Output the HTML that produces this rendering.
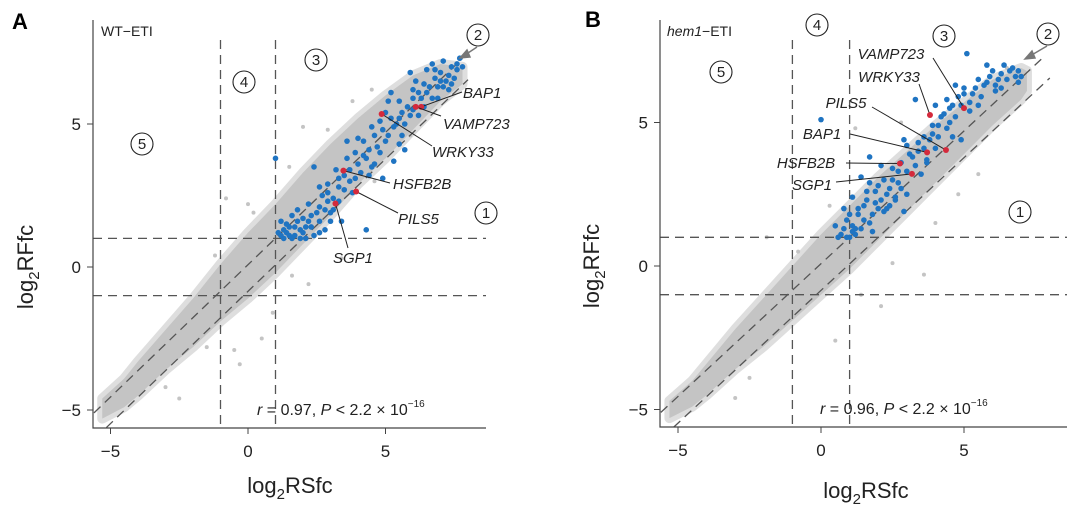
<!DOCTYPE html>
<html><head><meta charset="utf-8"><style>
body{margin:0;background:#fff}
svg{display:block;font-family:"Liberation Sans",Arial,sans-serif}
</style></head><body>
<svg id="chart" width="1080" height="513" viewBox="0 0 1080 513"></svg>
<script>
// ---- Panel A data ----
const bandXA=[-5.3,-4.5,-4,-3,-2,-1,0,1,2,3,4,5,6,7,7.8];
const bandUpA=[-4.6,-3.9,-3.3,-2.2,-1.1,0.1,1.2,2.2,3.3,4.3,5.2,6.0,6.7,7.1,7.0];
const bandLoA=[-5.3,-4.9,-4.5,-3.6,-2.8,-1.9,-1.1,-0.2,0.8,1.8,2.9,3.8,4.8,5.8,6.4];
const grayA=[[-1.5,-2.8],[0.2,1.9],[-0.8,2.4],[0.5,-2.5],[0.9,-1.6],[1.5,3.5],[2.9,4.8],[-4.2,-4.3],[-2.5,-4.6],[3.4,0.3],[4.6,3.0],[2.2,-0.6],[-0.5,-2.9],[2.0,4.9],[3.8,5.8],[4.5,6.2],[-3.0,-4.2],[0.0,2.2],[-1.2,0.4],[1.6,-0.3],[5.9,4.6],[-0.3,-3.4]];
const blueA=[[1.1,1.2],[1.3,1.0],[1.5,1.4],[1.7,1.1],[1.9,1.3],[2.1,1.0],[1.2,1.6],[1.6,1.8],[2.0,1.7],[2.3,1.4],[2.5,1.9],[2.2,2.2],[2.8,2.0],[3.0,1.6],[2.7,2.5],[3.1,2.4],[3.3,2.8],[2.9,2.9],[3.5,3.2],[3.2,3.4],[3.7,3.0],[3.8,2.6],[4.3,1.3],[4.0,3.6],[3.9,4.0],[4.3,3.8],[4.6,3.6],[4.2,4.4],[4.6,4.6],[5.0,4.4],[5.3,4.9],[5.5,5.2],[5.0,5.4],[5.6,4.6],[5.8,5.6],[6.0,5.9],[6.2,6.1],[6.4,5.6],[6.6,6.3],[6.8,6.6],[7.0,6.8],[7.2,6.5],[7.4,7.0],[7.6,6.9],[7.3,6.2],[6.9,5.9],[6.1,6.5],[5.9,6.8],[5.2,6.1],[3.6,4.4],[2.4,3.5],[1.0,3.8],[4.9,3.1],[5.3,3.7],[5.7,4.1],[6.5,6.9],[7.7,7.3],[4.4,3.2],[3.0,1.9],[1.8,2.0],[1.4,1.2],[2.6,1.2],[6.7,7.1],[7.1,7.2],[5.5,4.3],[4.8,4.0],
[1.2,1.1],[1.4,1.5],[1.6,1.0],[1.8,1.6],[2.0,1.2],[2.2,1.6],[2.4,1.1],[2.6,1.6],[1.3,1.3],[1.5,1.1],[1.9,1.0],[2.1,1.4],[2.3,1.8],[2.6,2.1],[2.9,2.3],[3.1,2.0],[3.3,2.3],[3.5,2.7],[3.7,3.4],[3.9,3.1],[4.1,3.3],[4.2,3.9],[4.4,4.1],[4.5,3.5],[4.7,4.2],[4.9,4.8],[5.1,4.6],[5.2,5.2],[5.4,5.0],[5.6,5.4],[5.7,5.0],[5.9,5.3],[6.0,5.5],[6.2,5.3],[6.3,5.9],[6.5,6.1],[6.7,5.9],[6.9,6.3],[7.1,6.3],[7.3,6.7],[7.5,6.6],[7.6,7.1],[7.8,7.0],[7.4,6.4],[7.0,6.5],[6.8,6.9],[6.4,6.4],[6.0,6.2],[5.5,5.8],[5.1,5.8],[4.8,5.1],[4.5,4.9],[4.0,4.5],[3.6,3.8],[3.3,3.1],[2.9,2.6],[2.6,2.8],[1.7,1.4],[2.8,1.3],[3.4,1.6]];
const redA=[[6.3,5.6],[6.1,5.6],[4.86,5.35],[3.47,3.37],[3.93,2.64],[3.18,2.22]];
const namesA=["BAP1","VAMP723","WRKY33","HSFB2B","PILS5","SGP1"];
const labA=[[463,98,462,92],[443,129,441,116],[432,157,432,146],[393,189,390,183],[398,224,398,213],[333,263,348,248]];
// ---- Panel B data ----
const bandXB=[-5.3,-4.5,-4,-3,-2,-1,0,1,2,3,4,5,6,7,7.2];
const bandUpB=[-4.7,-4.0,-3.4,-2.2,-1.1,0.0,1.1,2.1,3.1,4.0,4.9,5.7,6.5,6.9,6.8];
const bandLoB=[-5.3,-4.9,-4.5,-3.6,-2.8,-1.9,-1.0,-0.1,0.9,1.9,2.9,3.9,4.9,5.8,6.1];
const grayB=[[-4.0,-4.3],[-3.0,-4.6],[-1.8,-1.2],[0.5,-2.6],[1.4,-1.0],[2.1,-1.4],[3.6,-0.3],[1.2,4.8],[2.8,5.0],[4.8,2.5],[5.5,3.2],[-1.9,1.0],[-0.8,0.5],[0.3,2.1],[2.5,0.1],[6.5,6.9],[-2.5,-3.9],[4.0,1.5]];
const blueB=[[0.5,1.4],[0.7,1.1],[0.9,1.6],[1.0,1.0],[1.2,1.3],[0.8,2.0],[1.3,1.8],[1.5,2.1],[1.7,1.5],[1.1,2.4],[1.6,2.6],[1.9,2.2],[2.0,2.8],[2.2,1.9],[2.3,2.5],[1.4,3.1],[2.6,2.3],[2.5,3.0],[2.8,2.7],[3.0,2.5],[2.7,3.3],[2.1,3.5],[3.2,3.8],[3.0,4.2],[3.4,4.0],[3.6,4.5],[3.9,4.6],[4.1,4.9],[4.3,5.3],[4.5,5.0],[4.6,5.6],[4.8,5.9],[5.0,6.2],[5.3,6.0],[5.5,6.5],[5.7,6.3],[6.0,6.8],[6.2,6.5],[6.4,7.0],[6.6,6.8],[6.8,6.6],[6.1,6.1],[5.8,7.0],[5.1,7.4],[4.7,6.3],[3.3,5.8],[0.0,5.1],[1.7,3.8],[2.9,1.9],[4.0,4.1],[1.1,1.4],[1.8,1.2],[4.4,5.8],[5.2,5.4],[3.7,3.6],[2.4,2.1],[4.9,4.4],[6.9,6.4],
[0.6,1.0],[0.8,1.3],[1.0,1.8],[1.2,1.1],[1.3,2.0],[1.5,1.6],[1.6,2.3],[1.8,1.8],[1.9,2.6],[2.1,2.3],[2.2,3.0],[2.4,2.7],[2.5,3.4],[2.7,2.9],[2.8,3.6],[3.0,3.3],[3.1,3.9],[3.3,3.5],[3.4,4.3],[3.6,4.1],[3.8,4.4],[3.9,4.9],[4.1,4.5],[4.2,5.2],[4.4,4.8],[4.5,5.5],[4.7,5.2],[4.9,5.6],[5.0,6.0],[5.2,5.7],[5.4,6.2],[5.6,5.9],[5.8,6.4],[5.9,6.6],[6.1,6.3],[6.3,6.7],[6.5,6.5],[6.7,6.9],[6.9,6.8],[7.0,6.6],[6.3,6.2],[5.5,5.6],[4.6,4.5],[3.5,3.2],[2.3,2.0],[1.4,1.3],[0.9,1.0],[1.7,2.9],[2.9,4.4],[4.0,5.6],[3.7,3.7],[2.0,2.0],[2.6,2.4],[1.1,1.2]];
const redB=[[3.81,5.26],[5.0,5.5],[4.37,4.04],[3.71,3.96],[2.76,3.57],[3.18,3.21]];
const namesB=["WRKY33","VAMP723","PILS5","BAP1","HSFB2B","SGP1"];
const labB=[[889,82,919,84],[891,59,933,58],[846,108,872,107],[822,139,850,134],[806,168,846,163],[812,190,836,182]];
const ticks=[-5,0,5];

const NS="http://www.w3.org/2000/svg";
const svg=document.getElementById('chart');
function mk(tag,attrs,parent){const e=document.createElementNS(NS,tag);for(const k in attrs)e.setAttribute(k,attrs[k]);(parent||svg).appendChild(e);return e;}

function panel(P){
  const g=mk('g',{});
  
  
  const sx=v=>P.x0+v*P.kx, sy=v=>P.y0-v*P.ky;
  let pts=P.bx.map((x,i)=>sx(x)+','+sy(P.up[i])).concat(P.bx.map((x,i)=>sx(x)+','+sy(P.lo[i])).reverse());
  const halo=mk('polygon',{points:pts.join(' '),fill:'#dcdcdc',stroke:'#dedede','stroke-width':10,'stroke-linejoin':'round'},g);
  
  
  const band=mk('polygon',{points:pts.join(' '),fill:'#c4c4c4'},g);
  
  
  P.gray.forEach(p=>{const c=mk('circle',{cx:sx(p[0]),cy:sy(p[1]),r:2,fill:'#c4c4c4'},g);
    
    });
  const dash={stroke:'#555','stroke-width':1.3,'stroke-dasharray':'9,6',fill:'none'};
  [-1,1].forEach(v=>{
    const l1=mk('line',Object.assign({x1:sx(v),x2:sx(v),y1:P.top+20,y2:P.bot},dash),g);
    
    
    const l2=mk('line',Object.assign({x1:P.ax,x2:P.right,y1:sy(v),y2:sy(v)},dash),g);
    
    
  });
  [[0.08,-5.6,7.8],[-0.85,-5.15,8.0]].forEach(d=>{
    const l=mk('line',Object.assign({x1:sx(d[1]),y1:sy(0.925*d[1]+d[0]),x2:sx(d[2]),y2:sy(0.925*d[2]+d[0])},dash),g);
    
    
  });
  P.blue.forEach(p=>{const c=mk('circle',{cx:sx(p[0]),cy:sy(p[1]),r:2.8,fill:'#1f74c2'},g);
    
    });
  P.red.forEach((p,i)=>{
    const L=P.lab[i];
    const ln=mk('line',{x1:L[2],y1:L[3],x2:sx(p[0]),y2:sy(p[1]),stroke:'#222','stroke-width':1},g);
    
    
    const c=mk('circle',{cx:sx(p[0]),cy:sy(p[1]),r:3,fill:'#d42a3c'},g);
    
    
    const t=mk('text',{x:L[0],y:L[1],'font-size':15,'font-style':'italic',fill:'#222','text-anchor':P.anchor},g);
    t.textContent=P.names[i];
    
    
  });
  const ax=mk('path',{d:`M${P.ax},${P.top}V${P.bot}H${P.right}`,stroke:'#444','stroke-width':1.2,fill:'none'},g);
  
  
  ticks.forEach(v=>{
    mk('line',{x1:sx(v),x2:sx(v),y1:P.bot,y2:P.bot+6,stroke:'#444'},g);
    const tx=mk('text',{x:sx(v),y:P.bot+29,'font-size':17,'text-anchor':'middle',fill:'#222'},g);
    tx.textContent=v<0?'\u2212'+(-v):v;
    
    
    mk('line',{x1:P.ax-6,x2:P.ax,y1:sy(v),y2:sy(v),stroke:'#444'},g);
    const ty=mk('text',{x:P.ax-12,y:sy(v)+6,'font-size':17,'text-anchor':'end',fill:'#222'},g);
    ty.textContent=v<0?'\u2212'+(-v):v;
    
    
  });
}

panel({id:'a',x0:248,kx:27.5,y0:267,ky:28.6,ax:93,top:20,bot:428,right:486,
  bx:bandXA,up:bandUpA,lo:bandLoA,gray:grayA,blue:blueA,red:redA,names:namesA,lab:labA,anchor:'start'});
panel({id:'b',x0:821,kx:28.6,y0:266,ky:28.7,ax:660,top:20,bot:427,right:1067,
  bx:bandXB,up:bandUpB,lo:bandLoB,gray:grayB,blue:blueB,red:redB,names:namesB,lab:labB,anchor:'middle'});
</script>
<svg width="1080" height="513" style="position:absolute;left:0;top:0" font-family="Liberation Sans, Arial, sans-serif">
  <text x="12" y="29" font-size="22" font-weight="bold">A</text>
  <text x="585" y="27" font-size="22" font-weight="bold">B</text>
  <text x="101" y="36" font-size="14" fill="#222">WT−ETI</text>
  <text x="667" y="36" font-size="14" fill="#222"><tspan font-style="italic">hem1</tspan>−ETI</text>
  <g fill="none" stroke="#222" stroke-width="1.1">
    <circle cx="478" cy="35" r="11"/><circle cx="316" cy="60" r="11"/><circle cx="244" cy="82" r="11"/><circle cx="142" cy="144" r="11"/><circle cx="486" cy="213" r="11"/>
    <circle cx="1048" cy="34" r="11"/><circle cx="944" cy="36" r="11"/><circle cx="817" cy="25" r="11"/><circle cx="721" cy="72" r="11"/><circle cx="1020" cy="212" r="11"/>
  </g>
  <g font-size="15" text-anchor="middle" fill="#222">
    <text x="478" y="40">2</text><text x="316" y="65">3</text><text x="244" y="87">4</text><text x="142" y="149">5</text><text x="486" y="218">1</text>
    <text x="1048" y="39">2</text><text x="944" y="41">3</text><text x="817" y="30">4</text><text x="721" y="77">5</text><text x="1020" y="217">1</text>
  </g>
  <g stroke="#777" stroke-width="1.5" fill="#777">
    <line x1="477" y1="47" x2="465" y2="55"/><polygon points="460,58 467,50 470,57"/>
    <line x1="1047" y1="46" x2="1030" y2="56"/><polygon points="1025,59 1032,51 1035,58"/>
  </g>
  <text x="257" y="415" font-size="16" fill="#222"><tspan font-style="italic">r</tspan> = 0.97, <tspan font-style="italic">P</tspan> &lt; 2.2 × 10<tspan font-size="10" dy="-8">−16</tspan></text>
  <text x="820" y="414" font-size="16" fill="#222"><tspan font-style="italic">r</tspan> = 0.96, <tspan font-style="italic">P</tspan> &lt; 2.2 × 10<tspan font-size="10" dy="-8">−16</tspan></text>
  <text x="290" y="493" font-size="22" text-anchor="middle" fill="#222">log<tspan font-size="15" dy="6">2</tspan><tspan dy="-6">RSfc</tspan></text>
  <text x="866" y="498" font-size="22" text-anchor="middle" fill="#222">log<tspan font-size="15" dy="6">2</tspan><tspan dy="-6">RSfc</tspan></text>
  <text transform="translate(33,267) rotate(-90)" font-size="22" text-anchor="middle" fill="#222">log<tspan font-size="15" dy="6">2</tspan><tspan dy="-6">RFfc</tspan></text>
  <text transform="translate(599,266) rotate(-90)" font-size="22" text-anchor="middle" fill="#222">log<tspan font-size="15" dy="6">2</tspan><tspan dy="-6">RFfc</tspan></text>
</svg>
</body></html>
